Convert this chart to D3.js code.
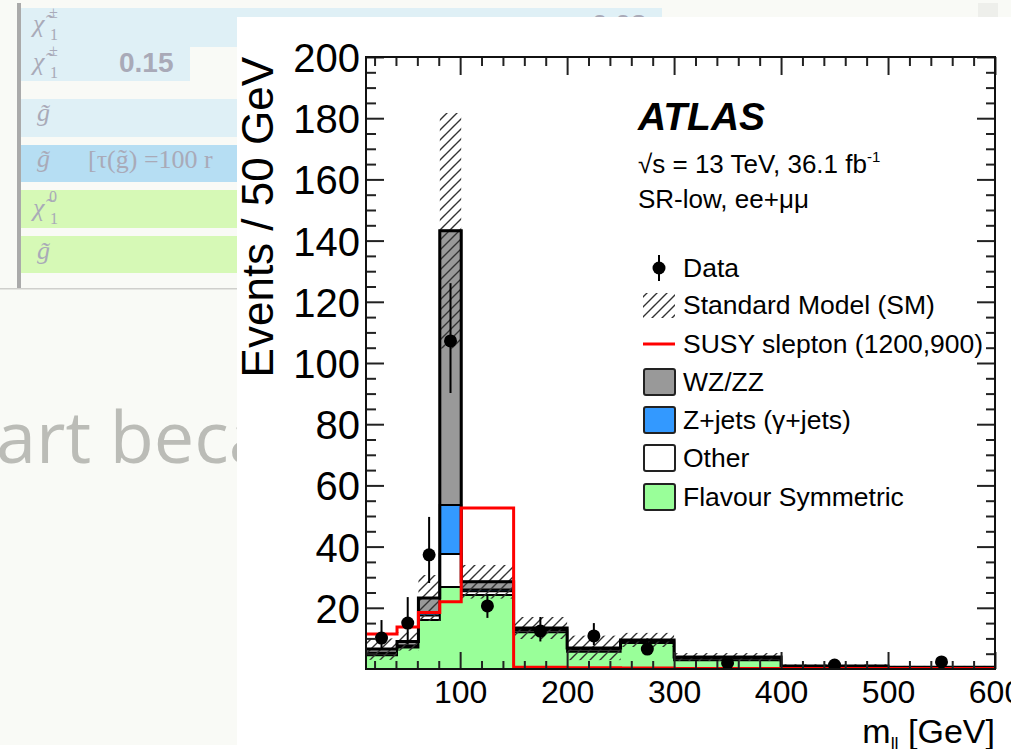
<!DOCTYPE html>
<meta charset="utf-8">
<style>
    body {
        margin: 0;
        background-color: #F9FAF6;
        overflow: hidden;
    }

    svg {
        display: block;
    }

    .axis path {
        display: none;
    }

    .axis line {
        stroke: #222;
        stroke-width: 2px;
    }

    .axis text {
        font-family: "Liberation Sans", Arial, sans-serif;
        fill: #000;
    }

    .page-serif {
        font-family: "Liberation Serif", "DejaVu Serif", serif;
        fill: #A9AAB8;
    }

    .root-text {
        font-family: "Liberation Sans", Arial, sans-serif;
        fill: #000;
    }
</style>

<body>
    <svg width="1011" height="749"></svg>
</body>
<script src="https://d3js.org/d3.v7.min.js"></script>
<script>
    // bin edges of m_ll [GeV]
    var binEdges = [12, 41, 61, 81, 101, 150, 200, 250, 300, 400, 500, 600];

    // stacked SM backgrounds, events / 50 GeV
    var flavourSym = [4.5, 7.0, 16.0, 26.8, 24.2, 12.0, 5.6, 8.5, 2.9, 0.3, 0.1];
    var other = [0.6, 0.5, 1.5, 10.8, 1.2, 0.7, 0.7, 0.5, 0.5, 0.3, 0.2];
    var zJets = [0.2, 0.2, 0.8, 16.0, 0.6, 0.1, 0.1, 0.1, 0.1, 0.05, 0.05];
    var wzZZ = [1.2, 1.3, 4.9, 89.6, 2.5, 0.6, 0.5, 0.4, 0.4, 0.35, 0.25];
    var smErr = [3.5, 3.0, 7.5, 38.5, 5.5, 3.6, 4.0, 2.3, 1.3, 0.5, 0.4];

    // signal line
    var slepton = [11.4, 13.7, 18.5, 22.0, 52.6, 0.6, 0.4, 0.3, 0.2, 0.2, 0.2];

    // data points
    var dataX = [26.5, 51, 71, 91, 125.5, 175, 225, 275, 350, 450, 550];
    var dataY = [10.1, 15.0, 37.3, 107.2, 20.6, 12.4, 10.8, 6.5, 2.0, 1.3, 2.3];
    var dataLo = [6.2, 8.0, 28.1, 90.2, 16.7, 9.0, 7.8, 4.6, 1.0, 0.6, 1.3];
    var dataHi = [16.0, 23.5, 49.7, 126.1, 24.0, 17.0, 15.0, 10.0, 3.0, 2.2, 3.5];

    var yMajor = [20, 40, 60, 80, 100, 120, 140, 160, 180, 200];
    var xMajor = [100, 200, 300, 400, 500, 600];

    var svg = d3.select("svg");

    // ---------- page behind the figure ----------
    var page = svg.append("g");
    page.append("rect").attr("x", 978).attr("y", 3).attr("width", 20).attr("height", 14).attr("fill", "#EEEFEB");
    page.append("rect").attr("x", 17).attr("y", 3).attr("width", 4).attr("height", 286).attr("fill", "#AAAAAA");
    page.append("rect").attr("x", 0).attr("y", 288).attr("width", 240).attr("height", 1.5).attr("fill", "#CFCFCC");

    var rows = [
        { x: 21, y: 8, w: 641, h: 39, c: "#DFF0F6" },
        { x: 21, y: 47, w: 169, h: 34, c: "#DFF0F6" },
        { x: 21, y: 99, w: 641, h: 38, c: "#DFF0F6" },
        { x: 21, y: 145, w: 641, h: 37, c: "#B6DEF3" },
        { x: 21, y: 190, w: 641, h: 38, c: "#D6F9B6" },
        { x: 21, y: 236, w: 641, h: 37, c: "#D6F9B6" }
    ];
    page.selectAll(".row").data(rows).enter().append("rect")
        .attr("x", function(d) { return d.x; })
        .attr("y", function(d) { return d.y; })
        .attr("width", function(d) { return d.w; })
        .attr("height", function(d) { return d.h; })
        .attr("fill", function(d) { return d.c; });

    function particle(px, base, sup, sub, glyph) {
        page.append("text").attr("class", "page-serif").attr("x", px).attr("y", base)
            .style("font-size", "26px").style("font-style", "italic").text(glyph);
        if (sup) page.append("text").attr("class", "page-serif").attr("x", px + 16).attr("y", base - 14)
            .style("font-size", "16px").text(sup);
        if (sub) page.append("text").attr("class", "page-serif").attr("x", px + 17).attr("y", base + 8)
            .style("font-size", "16px").text(sub);
    }
    particle(33, 32, "\u00B1", "1", "\u03C7\u0303");
    particle(33, 70, "\u00B1", "1", "\u03C7\u0303");
    particle(37, 121, null, null, "g\u0303");
    particle(37, 167, null, null, "g\u0303");
    particle(33, 216, "0", "1", "\u03C7\u0303");
    particle(37, 259, null, null, "g\u0303");

    page.append("text").attr("class", "page-serif").attr("x", 88).attr("y", 168)
        .style("font-size", "26px").text("[\u03C4(g\u0303) =100 r");
    page.append("text").attr("x", 119).attr("y", 72)
        .style("font-family", "'Liberation Sans', Arial, sans-serif").style("font-weight", "bold")
        .style("font-size", "28px").attr("fill", "#A9AAB8").text("0.15");
    page.append("text").attr("x", 592).attr("y", 34)
        .style("font-family", "'Liberation Sans', Arial, sans-serif").style("font-weight", "bold")
        .style("font-size", "28px").attr("fill", "#A9AAB8").text("0.03");
    page.append("text").attr("x", -4).attr("y", 463)
        .style("font-family", "'Open Sans', sans-serif").style("font-size", "72px")
        .attr("fill", "#BBBCB7").text("art beca");
    page.append("rect").attr("x", 0).attr("y", 745).attr("width", 240).attr("height", 4).attr("fill", "#FFFFFF");

    // ---------- white figure panel ----------
    svg.append("rect").attr("x", 237).attr("y", 17).attr("width", 774).attr("height", 732).attr("fill", "#FFFFFF");

    var pLeft = 366, pRight = 995, pTop = 57, pBottom = 669;
    var x = d3.scaleLinear().domain([12, 600]).range([pLeft, pRight]);
    var y = d3.scaleLinear().domain([0, 200]).range([pBottom, pTop]);

    var defs = svg.append("defs");
    defs.append("clipPath").attr("id", "plot-clip").append("rect")
        .attr("x", pLeft).attr("y", pTop).attr("width", pRight - pLeft).attr("height", pBottom - pTop);
    var hatch = defs.append("pattern").attr("id", "hatch").attr("patternUnits", "userSpaceOnUse")
        .attr("width", 10).attr("height", 10);
    hatch.append("path").attr("d", "M0,10 L10,0 M-2,2 L2,-2 M8,12 L12,8")
        .attr("stroke", "#333").attr("stroke-width", 1.4);

    var plot = svg.append("g").attr("clip-path", "url(#plot-clip)");

    // cumulative stack
    var nBins = binEdges.length - 1;
    var layers = [
        { vals: flavourSym, color: "#99FF99" },
        { vals: other, color: "#FFFFFF" },
        { vals: zJets, color: "#3399FF" },
        { vals: wzZZ, color: "#999999" }
    ];
    var running = d3.range(nBins).map(function() { return 0; });
    layers.forEach(function(l) {
        l.top = l.vals.map(function(v, i) { running[i] += v; return running[i]; });
    });
    var total = running.slice();

    function stepPoints(vals) {
        var pts = vals.map(function(v, i) { return [binEdges[i], v]; });
        pts.push([binEdges[nBins], vals[nBins - 1]]);
        return pts;
    }

    var area = d3.area().curve(d3.curveStepAfter)
        .x(function(d) { return x(d[0]); })
        .y0(y(0))
        .y1(function(d) { return y(d[1]); });
    var line = d3.line().curve(d3.curveStepAfter)
        .x(function(d) { return x(d[0]); })
        .y(function(d) { return y(d[1]); });

    layers.slice().reverse().forEach(function(l) {
        plot.append("path").datum(stepPoints(l.top))
            .attr("d", area)
            .attr("fill", l.color)
            .attr("stroke", "#000")
            .attr("stroke-width", 2);
    });

    // uncertainty band
    plot.selectAll(".band").data(d3.range(nBins)).enter().append("rect")
        .attr("x", function(i) { return x(binEdges[i]); })
        .attr("width", function(i) { return x(binEdges[i + 1]) - x(binEdges[i]); })
        .attr("y", function(i) { return y(total[i] + smErr[i]); })
        .attr("height", function(i) { return y(Math.max(total[i] - smErr[i], 0)) - y(total[i] + smErr[i]); })
        .attr("fill", "url(#hatch)");

    plot.append("path").datum(stepPoints(total))
        .attr("d", line).attr("fill", "none").attr("stroke", "#000").attr("stroke-width", 3);

    plot.append("path").datum(stepPoints(slepton))
        .attr("d", line).attr("fill", "none").attr("stroke", "#FF0000").attr("stroke-width", 3);

    // data
    var pts = plot.selectAll(".pt").data(d3.range(dataX.length)).enter().append("g");
    pts.append("line")
        .attr("x1", function(i) { return x(dataX[i]); })
        .attr("x2", function(i) { return x(dataX[i]); })
        .attr("y1", function(i) { return y(dataLo[i]); })
        .attr("y2", function(i) { return y(dataHi[i]); })
        .attr("stroke", "#000").attr("stroke-width", 2);
    pts.append("circle")
        .attr("cx", function(i) { return x(dataX[i]); })
        .attr("cy", function(i) { return y(dataY[i]); })
        .attr("r", 6.5).attr("fill", "#000");

    // ---------- axes ----------
    var yMinor = d3.range(5, 200, 5).filter(function(v) { return v % 20 !== 0; });
    var xMinor = d3.range(20, 600, 20).filter(function(v) { return v % 100 !== 0; });

    var yAxis = svg.append("g").attr("class", "axis").attr("transform", "translate(" + pLeft + ",0)")
        .call(d3.axisLeft(y).tickValues(yMajor).tickSize(-18).tickPadding(6));
    yAxis.selectAll("text").style("font-size", "40px").attr("dy", "0.36em");
    svg.append("g").attr("class", "axis").attr("transform", "translate(" + pLeft + ",0)")
        .call(d3.axisLeft(y).tickValues(yMinor).tickSize(-10).tickFormat(""));
    svg.append("g").attr("class", "axis").attr("transform", "translate(" + pRight + ",0)")
        .call(d3.axisRight(y).tickValues(yMajor).tickSize(-18).tickFormat(""));
    svg.append("g").attr("class", "axis").attr("transform", "translate(" + pRight + ",0)")
        .call(d3.axisRight(y).tickValues(yMinor).tickSize(-9).tickFormat(""));

    var xAxis = svg.append("g").attr("class", "axis").attr("transform", "translate(0," + pBottom + ")")
        .call(d3.axisBottom(x).tickValues(xMajor).tickSize(-17));
    xAxis.selectAll("text").style("font-size", "32px").attr("y", 34).attr("dy", 0);
    svg.append("g").attr("class", "axis").attr("transform", "translate(0," + pBottom + ")")
        .call(d3.axisBottom(x).tickValues(xMinor).tickSize(-8).tickFormat(""));
    svg.append("g").attr("class", "axis").attr("transform", "translate(0," + pTop + ")")
        .call(d3.axisTop(x).tickValues(xMajor).tickSize(-18).tickFormat(""));
    svg.append("g").attr("class", "axis").attr("transform", "translate(0," + pTop + ")")
        .call(d3.axisTop(x).tickValues(xMinor).tickSize(-9).tickFormat(""));

    svg.append("rect").attr("x", pLeft).attr("y", pTop).attr("width", pRight - pLeft).attr("height", pBottom - pTop)
        .attr("fill", "none").attr("stroke", "#111").attr("stroke-width", 2);

    svg.append("text").attr("class", "root-text")
        .attr("transform", "translate(273," + pTop + ") rotate(-90)")
        .attr("text-anchor", "end")
        .style("font-size", "44px")
        .text("Events / 50 GeV");

    var xt = svg.append("text").attr("class", "root-text")
        .attr("x", pRight).attr("y", 743).attr("text-anchor", "end").style("font-size", "34px");
    xt.append("tspan").text("m");
    xt.append("tspan").attr("dy", 7).style("font-size", "18px").text("ll");
    xt.append("tspan").attr("dy", -7).text(" [GeV]");

    // ---------- labels ----------
    svg.append("text").attr("class", "root-text").attr("x", 638).attr("y", 130)
        .style("font-size", "39px").style("font-weight", "bold").style("font-style", "italic").text("ATLAS");
    var lumi = svg.append("text").attr("class", "root-text").attr("x", 638).attr("y", 173).style("font-size", "26px");
    lumi.append("tspan").text("\u221As = 13 TeV, 36.1 fb");
    lumi.append("tspan").attr("dy", -11).style("font-size", "15px").text("-1");
    svg.append("text").attr("class", "root-text").attr("x", 638).attr("y", 208)
        .style("font-size", "26px").text("SR-low, ee+\u03BC\u03BC");

    // ---------- legend ----------
    var legendLabels = ["Data", "Standard Model (SM)", "SUSY slepton (1200,900)", "WZ/ZZ",
        "Z+jets (\u03B3+jets)", "Other", "Flavour Symmetric"];
    var legendY = [268, 305, 344, 382, 420, 458, 497];
    var lg = svg.append("g");
    lg.selectAll("text").data(legendLabels).enter().append("text")
        .attr("class", "root-text")
        .attr("x", 683)
        .attr("y", function(d, i) { return legendY[i] + 9; })
        .style("font-size", "26.5px")
        .text(function(d) { return d; });

    lg.append("line").attr("x1", 659).attr("x2", 659).attr("y1", legendY[0] - 13).attr("y2", legendY[0] + 13)
        .attr("stroke", "#000").attr("stroke-width", 2);
    lg.append("circle").attr("cx", 659).attr("cy", legendY[0]).attr("r", 6.5).attr("fill", "#000");
    lg.append("rect").attr("x", 643).attr("y", legendY[1] - 12).attr("width", 32).attr("height", 25)
        .attr("fill", "url(#hatch)");
    lg.append("line").attr("x1", 643).attr("x2", 675).attr("y1", legendY[2]).attr("y2", legendY[2])
        .attr("stroke", "#FF0000").attr("stroke-width", 3);
    var boxColors = ["#999999", "#3399FF", "#FFFFFF", "#99FF99"];
    lg.selectAll(".box").data(boxColors).enter().append("rect")
        .attr("x", 644)
        .attr("y", function(d, i) { return legendY[i + 3] - 13; })
        .attr("width", 31).attr("height", 26).attr("rx", 2)
        .attr("fill", function(d) { return d; })
        .attr("stroke", "#222").attr("stroke-width", 2);
</script>
